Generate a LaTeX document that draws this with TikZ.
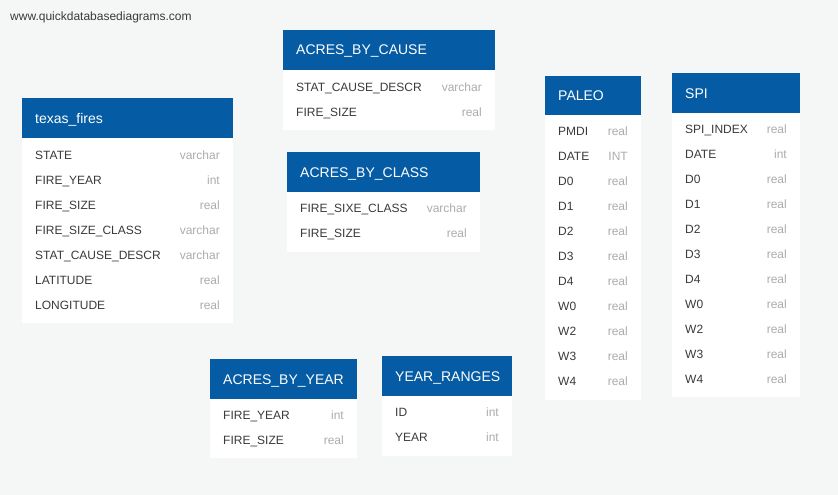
\documentclass[tikz,border=0pt]{standalone}
\usepackage{fontspec}
\setmainfont{Liberation Sans}
\definecolor{bgcol}{RGB}{245,246,246}
\definecolor{headcol}{RGB}{5,91,164}
\definecolor{fieldcol}{RGB}{58,58,58}
\definecolor{typecol}{RGB}{172,172,172}
\tikzset{
  headbox/.style={fill=headcol, draw=none, inner sep=0pt, outer sep=0pt, anchor=north west},
  bodybox/.style={fill=white, draw=none, inner sep=0pt, outer sep=0pt, anchor=north west},
  titletext/.style={text=white, font=\fontsize{14}{16}\selectfont, inner sep=0pt, anchor=base west},
  fieldtext/.style={text=fieldcol, font=\fontsize{12}{14}\selectfont, inner sep=0pt, anchor=base west},
  typetext/.style={text=typecol, font=\fontsize{12}{14}\selectfont, inner sep=0pt, anchor=base east},
  marktext/.style={text=fieldcol, font=\fontsize{12}{14}\selectfont, inner sep=0pt, anchor=base west},
}
% #1 name, #2 left, #3 top, #4 width, #5 header height, #6 body height, #7 title
\newcommand\dbtable[7]{%
  \node[bodybox, minimum width=#4pt, minimum height=#6pt] (#1-body) at (#2,#3+#5) {};
  \node[headbox, minimum width=#4pt, minimum height=#5pt] (#1) at (#2,#3) {};
  \node[titletext] (#1-title) at (#2+13,#3+#5/2+5) {#7};
}
% #1 id, #2 left, #3 right, #4 row centre y, #5 field, #6 type
\newcommand\dbfield[6]{%
  \node[fieldtext] (#1-n) at (#2+13,#4+4.3) {#5};
  \node[typetext] (#1-t) at (#3-13,#4+4.3) {#6};
}
\begin{document}
\begin{tikzpicture}[x=1pt,y=-1pt]
\fill[bgcol] (0,0) rectangle (838,495);
\useasboundingbox (0,0) rectangle (838,495);
\node[marktext] (mark) at (10,20.3) {www.quickdatabasediagrams.com};

% texas_fires
\dbtable{tf}{22}{98}{211}{40}{185}{texas\_fires}
\dbfield{tf1}{22}{233}{155}{STATE}{varchar}
\dbfield{tf2}{22}{233}{180}{FIRE\_YEAR}{int}
\dbfield{tf3}{22}{233}{205}{FIRE\_SIZE}{real}
\dbfield{tf4}{22}{233}{230}{FIRE\_SIZE\_CLASS}{varchar}
\dbfield{tf5}{22}{233}{255}{STAT\_CAUSE\_DESCR}{varchar}
\dbfield{tf6}{22}{233}{280}{LATITUDE}{real}
\dbfield{tf7}{22}{233}{305}{LONGITUDE}{real}

% ACRES_BY_CAUSE
\dbtable{abc}{283}{30}{212}{40}{60}{ACRES\_BY\_CAUSE}
\dbfield{abc1}{283}{495}{87}{STAT\_CAUSE\_DESCR}{varchar}
\dbfield{abc2}{283}{495}{112}{FIRE\_SIZE}{real}

% ACRES_BY_CLASS
\dbtable{abl}{287}{152}{193}{40}{60}{ACRES\_BY\_CLASS}
\dbfield{abl1}{287}{480}{208.5}{FIRE\_SIXE\_CLASS}{varchar}
\dbfield{abl2}{287}{480}{233.5}{FIRE\_SIZE}{real}

% PALEO
\dbtable{pal}{545}{76}{96}{39}{285}{PALEO}
\dbfield{pal1}{545}{641}{131}{PMDI}{real}
\dbfield{pal2}{545}{641}{156}{DATE}{INT}
\dbfield{pal3}{545}{641}{181}{D0}{real}
\dbfield{pal4}{545}{641}{206}{D1}{real}
\dbfield{pal5}{545}{641}{231}{D2}{real}
\dbfield{pal6}{545}{641}{256}{D3}{real}
\dbfield{pal7}{545}{641}{281}{D4}{real}
\dbfield{pal8}{545}{641}{306}{W0}{real}
\dbfield{pal9}{545}{641}{331}{W2}{real}
\dbfield{pal10}{545}{641}{356}{W3}{real}
\dbfield{pal11}{545}{641}{381}{W4}{real}

% SPI
\dbtable{spi}{672}{73}{128}{40}{284}{SPI}
\dbfield{spi1}{672}{800}{129}{SPI\_INDEX}{real}
\dbfield{spi2}{672}{800}{154}{DATE}{int}
\dbfield{spi3}{672}{800}{179}{D0}{real}
\dbfield{spi4}{672}{800}{204}{D1}{real}
\dbfield{spi5}{672}{800}{229}{D2}{real}
\dbfield{spi6}{672}{800}{254}{D3}{real}
\dbfield{spi7}{672}{800}{279}{D4}{real}
\dbfield{spi8}{672}{800}{304}{W0}{real}
\dbfield{spi9}{672}{800}{329}{W2}{real}
\dbfield{spi10}{672}{800}{354}{W3}{real}
\dbfield{spi11}{672}{800}{379}{W4}{real}

% ACRES_BY_YEAR
\dbtable{aby}{210}{359}{147}{40}{59}{ACRES\_BY\_YEAR}
\dbfield{aby1}{210}{357}{415}{FIRE\_YEAR}{int}
\dbfield{aby2}{210}{357}{440}{FIRE\_SIZE}{real}

% YEAR_RANGES
\dbtable{yr}{382}{356}{130}{40}{60}{YEAR\_RANGES}
\dbfield{yr1}{382}{512}{412}{ID}{int}
\dbfield{yr2}{382}{512}{437}{YEAR}{int}
\end{tikzpicture}
\end{document}
